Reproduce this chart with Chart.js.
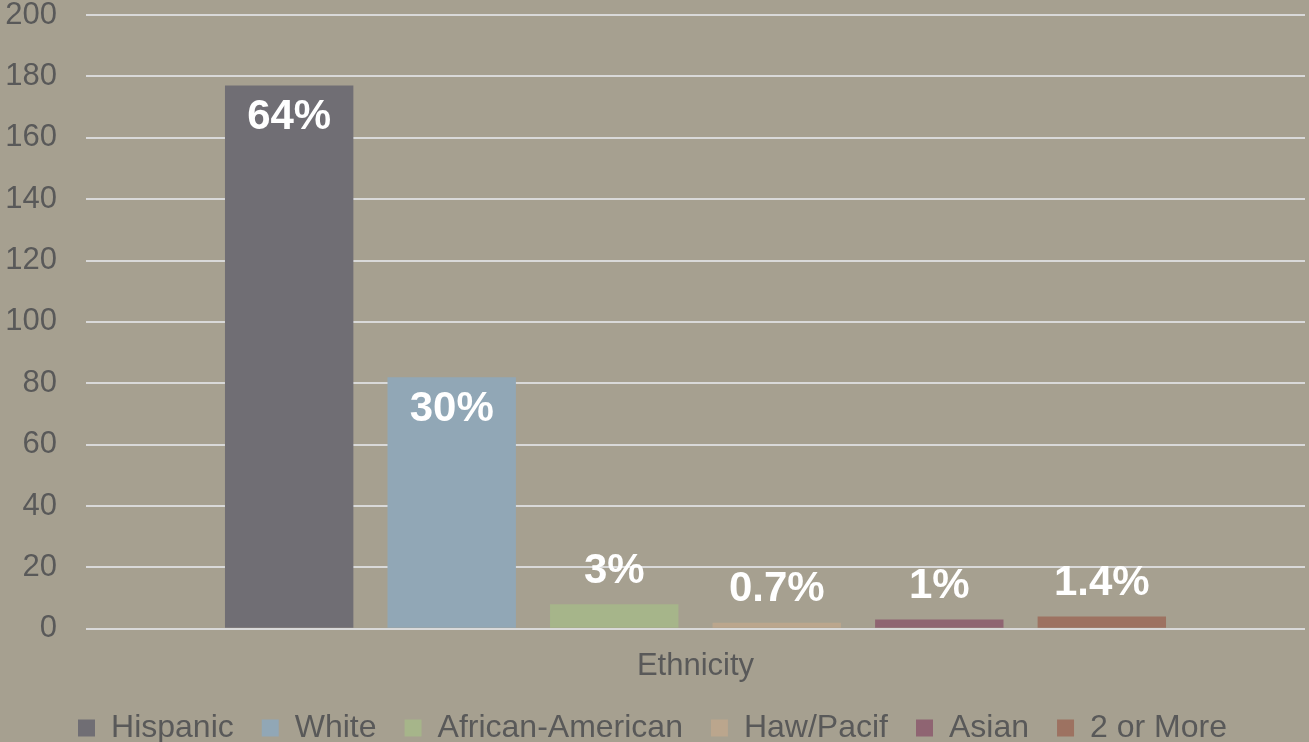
<!DOCTYPE html>
<html>
<head>
<meta charset="utf-8">
<script src="https://cdn.jsdelivr.net/npm/chart.js@4"></script>
<style>
  html, body { margin: 0; padding: 0; background: #A6A090; }
  #wrap { width: 1309px; height: 742px; }
</style>
</head>
<body>
<div id="wrap"><canvas id="ethChart"></canvas></div>
<script>
// DATA
const categories = ['Ethnicity'];
const groups = ['Hispanic', 'White', 'African-American', 'Haw/Pacif', 'Asian', '2 or More'];
const counts = [177, 82, 8, 2, 3, 4];
const pctLabels = ['64%', '30%', '3%', '0.7%', '1%', '1.4%'];
const colors = ['#706E74', '#91A7B6', '#A6B58A', '#BBA68D', '#8F6472', '#9D7261'];
const yTicks = [0, 20, 40, 60, 80, 100, 120, 140, 160, 180, 200];

const FONT = '"Liberation Sans", Arial, sans-serif';

// value labels: white bold, inside the top of tall bars, above short ones
const valueLabels = {
    id: 'valueLabels',
    afterDatasetsDraw(chart) {
        const c = chart.ctx;
        c.save();
        c.font = 'bold 42px ' + FONT;
        c.fillStyle = '#FFFFFF';
        c.textAlign = 'center';
        c.textBaseline = 'middle';
        chart.data.datasets.forEach((ds, i) => {
            const bar = chart.getDatasetMeta(i).data[0];
            const tall = ds.data[0] > 40;
            const y = tall ? bar.y + 32 : bar.y - 33;
            c.fillText(pctLabels[i], bar.x, y);
        });
        c.restore();
    }
};

const ctx = document.getElementById('ethChart');

new Chart(ctx, {
    type: 'bar',
    data: {
        labels: categories,
        datasets: groups.map((g, i) => ({
            label: g,
            data: [counts[i]],
            backgroundColor: colors[i]
        }))
    },
    options: {
        responsive: true,
        maintainAspectRatio: false,
        animation: false,
        categoryPercentage: 0.8,
        barPercentage: 0.79,
        layout: { padding: { left: 0, right: 4, top: 15, bottom: -12 } },
        plugins: {
            legend: {
                position: 'bottom',
                labels: {
                    color: '#595959',
                    font: { family: FONT, size: 32 },
                    boxWidth: 17,
                    boxHeight: 17,
                    padding: 28
                }
            },
            tooltip: { enabled: false }
        },
        scales: {
            x: {
                grid: { display: false, drawTicks: false },
                border: { display: false },
                afterFit(axis) {
                    axis.height -= 20;
                },
                ticks: {
                    color: '#595959',
                    font: { family: FONT, size: 31 },
                    padding: 19
                }
            },
            y: {
                min: 0,
                max: 200,
                afterBuildTicks(axis) {
                    axis.ticks = yTicks.map(v => ({ value: v }));
                },
                afterFit(axis) {
                    axis.width = 86;
                    axis.paddingTop = 0;
                    axis.paddingBottom = 0;
                },
                grid: { color: '#D9D9D9', lineWidth: 2, drawTicks: false },
                border: { display: false },
                ticks: {
                    color: '#595959',
                    font: { family: FONT, size: 31 },
                    padding: 29
                }
            }
        }
    },
    plugins: [valueLabels]
});
</script>
</body>
</html>
